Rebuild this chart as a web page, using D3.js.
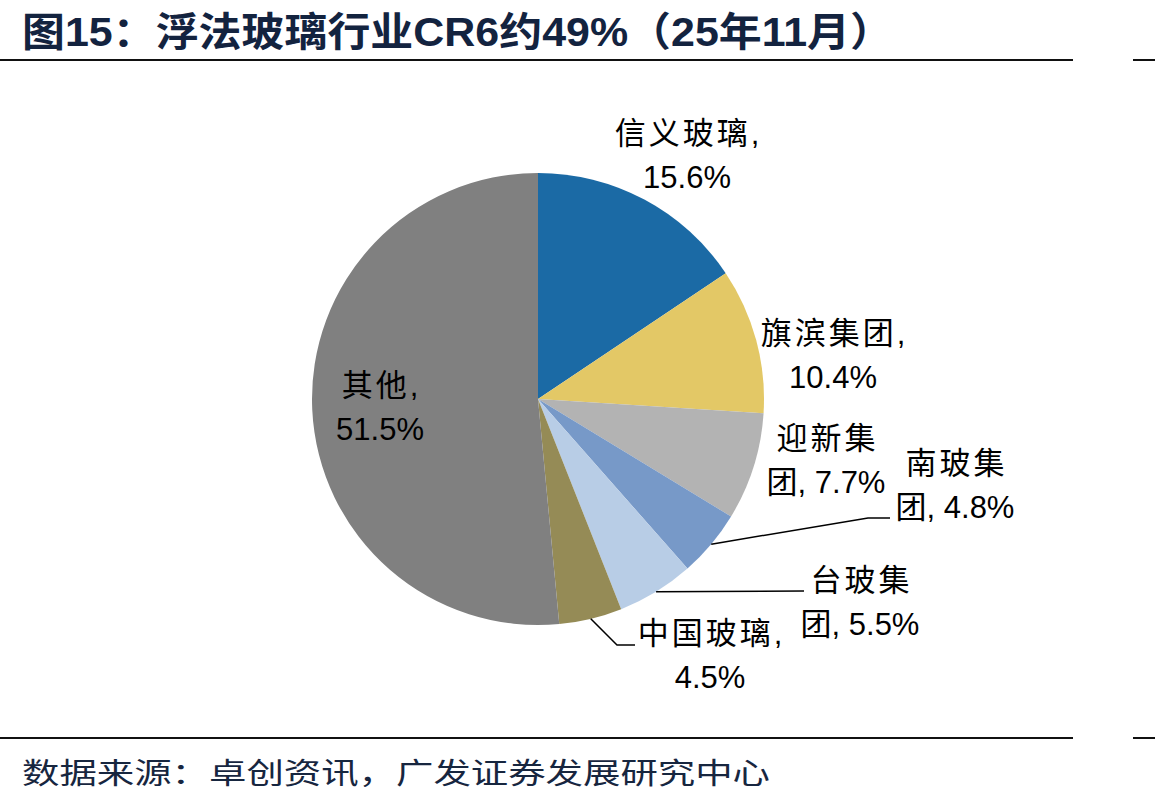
<!DOCTYPE html>
<html><head><meta charset="utf-8">
<script src="https://cdn.jsdelivr.net/npm/d3@7"></script>
<style>
body{margin:0;background:#fff;}
svg{display:block;}
</style></head>
<body>
<svg id="chart" width="1155" height="807"></svg>
<script>
const categories = ["信义玻璃","旗滨集团","迎新集团","南玻集团","台玻集团","中国玻璃","其他"];
const values = [15.6, 10.4, 7.7, 4.8, 5.5, 4.5, 51.5];
const colors = ["#1B6AA5","#E3C866","#B3B3B3","#7799C8","#B8CDE6","#958B56","#808080"];
const labelLines = [
  ["信义玻璃,","15.6%"],
  ["旗滨集团,","10.4%"],
  ["迎新集","团, 7.7%"],
  ["南玻集","团, 4.8%"],
  ["台玻集","团, 5.5%"],
  ["中国玻璃,","4.5%"],
  ["其他,","51.5%"]
];
const titleText = "图15：浮法玻璃行业CR6约49%（25年11月）";
const sourceText = "数据来源：卓创资讯，广发证券发展研究中心";

const svg = d3.select("#chart");
const cx = 538, cy = 399, R = 226;

// title
svg.append("text").attr("x",22).attr("y",46)
  .attr("font-family","'Liberation Sans Narrow','Liberation Sans','Noto Sans CJK SC',sans-serif")
  .attr("font-weight","bold").attr("font-size",40).attr("fill","#13233F")
  .attr("textLength",871).attr("lengthAdjust","spacingAndGlyphs")
  .text(titleText);
// rules
[[0,1073,60],[1133,1155,60],[0,1073,738],[1133,1155,738]].forEach(d=>{
  svg.append("line").attr("x1",d[0]).attr("x2",d[1]).attr("y1",d[2]).attr("y2",d[2])
    .attr("stroke","#111").attr("stroke-width",2);
});
// source
svg.append("text").attr("x",22).attr("y",784)
  .attr("font-family","'Noto Sans CJK SC',sans-serif")
  .attr("font-size",29).attr("fill","#17263F")
  .attr("textLength",748).attr("lengthAdjust","spacingAndGlyphs")
  .text(sourceText);

const data = categories.map((c,i)=>({name:c,value:values[i],color:colors[i],lines:labelLines[i]}));
const pie = d3.pie().value(d=>d.value).sort(null);
const arcs = pie(data);
const arc = d3.arc().innerRadius(0).outerRadius(R);
const g = svg.append("g").attr("transform",`translate(${cx},${cy})`);
g.selectAll("path").data(arcs).join("path")
  .attr("d",arc).attr("fill",d=>d.data.color);

// label positions (layout)
const labelPos = [
  [687,133],[833,333],[826,438],[955,463],[860,580],[710,633],[380,385]
];
const lineGap = 44;
arcs.forEach((a,i)=>{
  const [lx,ly] = labelPos[i];
  a.data.lines.forEach((ln,j)=>{
    const t = svg.append("text").attr("text-anchor","middle").attr("fill","#000")
      .attr("x",lx).attr("y",ly+j*lineGap).attr("dy","0.36em")
      .attr("font-family","'Liberation Sans','Noto Sans CJK SC',sans-serif")
      .attr("font-size",31)
      .text(ln);
    if (j===0) {
      const n = ln.length;
      const w = t.node().getComputedTextLength();
      t.attr("textLength", w+3*(n-1)).attr("lengthAdjust","spacing");
    }
  });
});

// leader lines
const leaders = {
  3: [[868,518],[890,518]],
  4: [[804,591]],
  5: [[617,645],[635,645]]
};
Object.keys(leaders).forEach(k=>{
  const a = arcs[+k];
  const mid = (a.startAngle+a.endAngle)/2;
  const sx = cx + R*Math.sin(mid), sy = cy - R*Math.cos(mid);
  const pts = [[sx,sy]].concat(leaders[k]);
  svg.append("path").attr("d",d3.line()(pts)).attr("fill","none")
    .attr("stroke","#000").attr("stroke-width",1.5);
});
</script>
</body></html>
